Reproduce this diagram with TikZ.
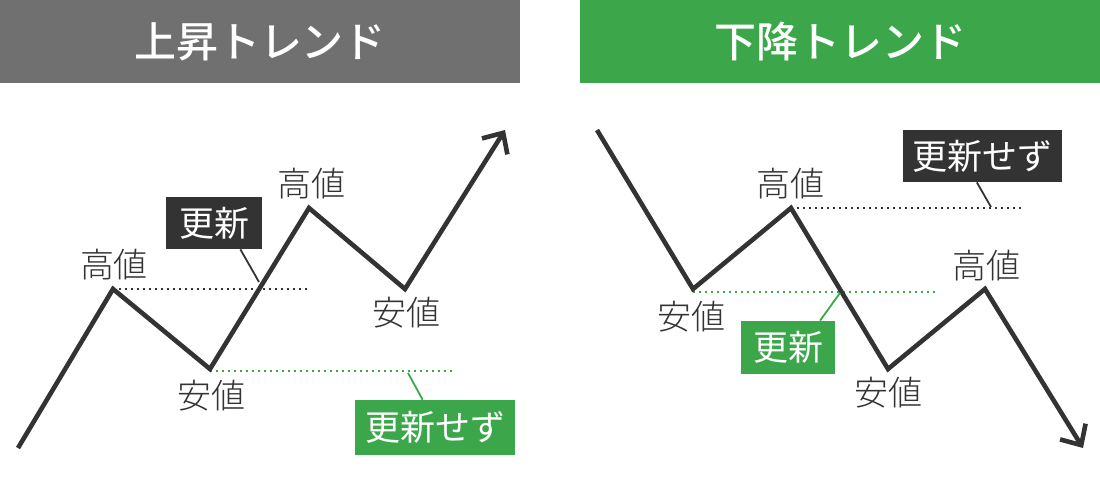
\documentclass[tikz,border=0pt]{standalone}
\usepackage{fontspec}
\setmainfont{Noto Sans CJK JP}
\newfontfamily\titlefont{Noto Sans CJK JP Medium}
\newfontfamily\pricefont{Noto Sans CJK JP Light}
\usetikzlibrary{arrows.meta}
\definecolor{titlegray}{RGB}{112, 112, 112}
\definecolor{trendgreen}{RGB}{59, 167, 74}
\definecolor{boxdark}{RGB}{51, 51, 51}

\tikzset{
  title/.style={text=white, font=\fontsize{21pt}{21pt}\titlefont},
  price/.style={text=boxdark, font=\fontsize{17pt}{17pt}\pricefont, inner sep=0pt},
  tag/.style={text=white, font=\fontsize{17.5pt}{17.5pt}\selectfont, inner sep=0pt, minimum height=26pt},
  zigzag/.style={boxdark, line width=2.3pt, line join=miter, -{Straight Barb[length=8pt, width=15pt]}},
  level/.style={line width=1pt, dash pattern=on 1pt off 2pt},
  leader/.style={line width=0.9pt}
}

\begin{document}
\begin{tikzpicture}[x=0.5pt, y=-0.5pt]
  \useasboundingbox (0,0) rectangle (1100,479);

  %Title bars
  \fill[titlegray] (0,0) rectangle (520,83);
  \fill[trendgreen] (580,0) rectangle (1100,83);
  \node[title] (upt) at (260,42) {上昇トレンド};
  \node[title] (downt) at (840,42) {下降トレンド};

  %Uptrend
  \coordinate (u0) at (18,448);
  \coordinate (u1) at (113,289);
  \coordinate (u2) at (210,369);
  \coordinate (u3) at (309,208);
  \coordinate (u4) at (405,289);
  \coordinate (u5) at (505,130);
  \coordinate (uh) at (307,289);
  \coordinate (ul) at (452,371);
  \coordinate (ul0) at (210,371);
  \coordinate (uhit) at (259,282);
  \coordinate (umiss) at (408,373);

  \draw[level, boxdark] (u1) -- (uh);
  \draw[level, trendgreen] (ul0) -- (ul);
  \draw[zigzag] (u0) -- (u1) -- (u2) -- (u3) -- (u4) -- (u5);

  \node[price] (uhigh1) at (114,265) {高値};
  \node[price] (ulow1) at (211,396) {安値};
  \node[price] (uhigh2) at (311,184) {高値};
  \node[price] (ulow2) at (406,313) {安値};

  \node[tag, fill=boxdark, minimum width=48pt] (unew) at (214,223) {更新};
  \node[tag, fill=trendgreen, minimum width=80pt, minimum height=27.5pt] (ukeep) at (435,427.5) {更新せず};
  \draw[leader, boxdark] (unew.-45) -- (uhit);
  \draw[leader, trendgreen] (ukeep.114) -- (umiss);

  %Downtrend
  \coordinate (d0) at (597,130);
  \coordinate (d1) at (693,289);
  \coordinate (d2) at (791,208);
  \coordinate (d3) at (888,369);
  \coordinate (d4) at (985,289);
  \coordinate (d5) at (1083,448);
  \coordinate (dh) at (1022,208);
  \coordinate (dl0) at (693,292);
  \coordinate (dl) at (935,292);
  \coordinate (dmiss) at (991,207);
  \coordinate (dhit) at (840,293);

  \draw[level, boxdark] (d2) -- (dh);
  \draw[level, trendgreen] (dl0) -- (dl);
  \draw[zigzag] (d0) -- (d1) -- (d2) -- (d3) -- (d4) -- (d5);

  \node[price] (dhigh1) at (790,184) {高値};
  \node[price] (dlow1) at (691,317) {安値};
  \node[price] (dlow2) at (888,393) {安値};
  \node[price] (dhigh2) at (986,266) {高値};

  \node[tag, fill=boxdark, minimum width=79.5pt] (dkeep) at (982.5,156) {更新せず};
  \node[tag, fill=trendgreen, minimum width=47pt, minimum height=26.5pt] (dnew) at (788,347.5) {更新};
  \draw[leader, boxdark] (dkeep.-102) -- (dmiss);
  \draw[leader, trendgreen] (dnew.40) -- (dhit);
\end{tikzpicture}
\end{document}
